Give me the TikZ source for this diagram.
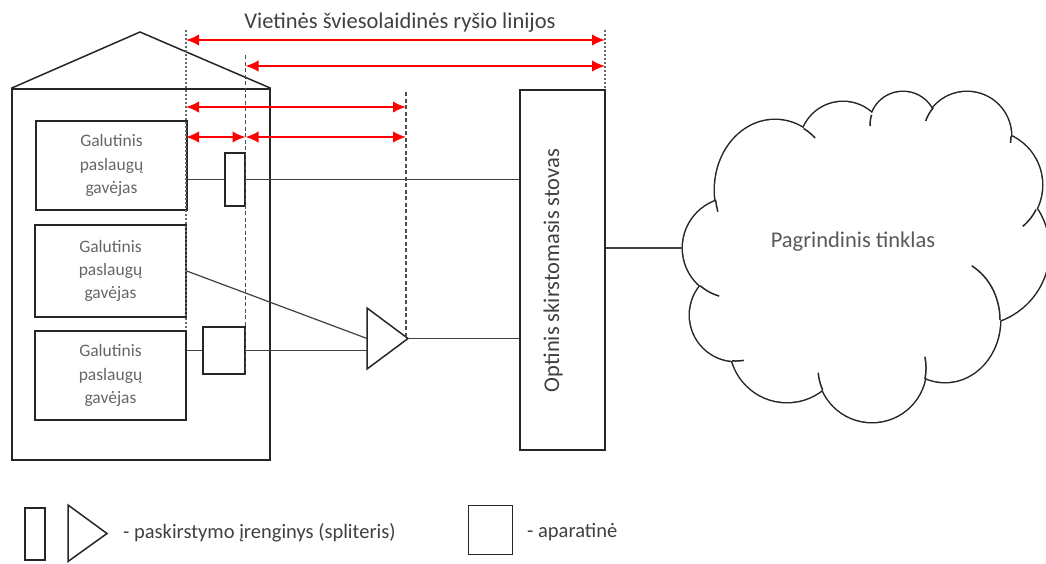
\documentclass[tikz,border=0pt]{standalone}
\usepackage{fontspec}
\setmainfont{Carlito}
\usetikzlibrary{arrows.meta}
\begin{document}
\begin{tikzpicture}[x=1pt,y=-1pt,
  outlinebox/.style={draw=black!85, line width=1.5pt, rectangle, inner sep=0pt},
  outlinepath/.style={draw=black!85, line width=1.5pt, line join=miter},
  enduser/.style={outlinebox, minimum width=151pt, align=center, text=black!60,
                  font=\fontsize{17.5}{23.3}\selectfont},
  wirepath/.style={draw=black!75, line width=1.2pt},
  guideline/.style={draw=black!70, line width=1.4pt, dash pattern=on 4pt off 2.5pt},
  guidedash/.style={draw=black!60, line width=1.1pt, dash pattern=on 2pt off 2pt},
  spanarrow/.style={draw=red, line width=2pt,
                    {Latex[length=13pt,width=11.5pt]}-{Latex[length=13pt,width=11.5pt]}},
  captiontext/.style={text=black!75, inner sep=0pt, font=\fontsize{22.5}{27}\selectfont},
  legendtext/.style={text=black!75, inner sep=0pt, font=\fontsize{20.5}{24}\selectfont},
  cloudline/.style={draw=black!85, line width=1.5pt},
]
\useasboundingbox (0,0) rectangle (1046,563);

% ---------- title ----------
\node[captiontext, anchor=base] (title) at (400,28) {Vietinės šviesolaidinės ryšio linijos};

% ---------- building ----------
\node[outlinebox, minimum width=258pt, minimum height=371pt] (house) at (141,274.5) {};
\coordinate (apex) at (140,32);
\draw[outlinepath] (house.north west) -- (apex) -- (house.north east);

\node[enduser, minimum height=89pt] (g1) at (111.5,165.5) {Galutinis\\paslaugų\\gavėjas};
\node[enduser, minimum height=92pt] (g2) at (110.5,271) {Galutinis\\paslaugų\\gavėjas};
\node[enduser, minimum height=89pt] (g3) at (110.5,375.5) {Galutinis\\paslaugų\\gavėjas};

% splitter (bar), equipment room (square), splitter (triangle)
\node[outlinebox, minimum width=20pt, minimum height=53pt] (sp1) at (235,179.5) {};
\node[outlinebox, minimum width=42pt, minimum height=47pt] (ap) at (224,350.5) {};
\coordinate (trT) at (367,308);
\coordinate (trB) at (367,369);
\coordinate (trR) at (408,338.5);
\coordinate (trIn) at (367,338.5);
\draw[outlinepath] (trT) -- (trR) -- (trB) -- cycle;

% distribution rack
\node[outlinebox, minimum width=85pt, minimum height=360pt] (rack) at (562.5,270) {};
\node[captiontext, rotate=90] (racklabel) at (553,270.5) {Optinis skirstomasis stovas};

% ---------- core network cloud ----------
\begin{scope}
\clip (0,0) rectangle (1046,563);
\foreach \cx/\cy/\rx/\ry in {733/248/50pt/50pt, 736/315/46pt/46pt, 787/345/57pt/57pt,
    872/368/54pt/54pt, 945/320/55pt/62pt, 974/250/75pt/75pt, 988/185/54pt/54pt,
    967/136/44pt/44pt, 903/125/33pt/33pt, 843/145/43pt/43pt, 775/190/60pt/70pt}
  \draw[draw=black!85, line width=3pt] (\cx,\cy) ellipse[x radius=\rx, y radius=\ry];
\foreach \cx/\cy/\rx/\ry in {733/248/50pt/50pt, 736/315/46pt/46pt, 787/345/57pt/57pt,
    872/368/54pt/54pt, 945/320/55pt/62pt, 974/250/75pt/75pt, 988/185/54pt/54pt,
    967/136/44pt/44pt, 903/125/33pt/33pt, 843/145/43pt/43pt, 775/190/60pt/70pt}
  \fill[white] (\cx,\cy) ellipse[x radius=\rx, y radius=\ry];
\fill[white] (725,210) -- (720,285) -- (740,350) -- (822,380) -- (925,362) -- (995,315)
  -- (1030,210) -- (1000,140) -- (933,115) -- (872,122) -- (805,138) -- cycle;
% inner ends of the puffs
\draw[cloudline] plot[domain=172:162, samples=12, smooth] ({775+60*cos(\x)},{190+70*sin(\x)});
\draw[cloudline] plot[domain=131:106, samples=12, smooth] ({733+50*cos(\x)},{248+50*sin(\x)});
\draw[cloudline] plot[domain=95:80, samples=12, smooth] ({736+46*cos(\x)},{315+46*sin(\x)});
\draw[cloudline] plot[domain=156:175, samples=12, smooth] ({872+54*cos(\x)},{368+54*sin(\x)});
\draw[cloudline] plot[domain=12:-12, samples=12, smooth] ({872+54*cos(\x)},{368+54*sin(\x)});
\draw[cloudline] plot[domain=0:-61, samples=16, smooth] ({945+55*cos(\x)},{320+62*sin(\x)});
\draw[cloudline] plot[domain=27:50, samples=12, smooth] ({988+54*cos(\x)},{185+54*sin(\x)});
\draw[cloudline] plot[domain=0:9, samples=8, smooth] ({967+44*cos(\x)},{136+44*sin(\x)});
\draw[cloudline] plot[domain=-140:-160, samples=12, smooth] ({967+44*cos(\x)},{136+44*sin(\x)});
\draw[cloudline] plot[domain=198:178, samples=12, smooth] ({903+33*cos(\x)},{125+33*sin(\x)});
\draw[cloudline] plot[domain=-61.5:-48, samples=12, smooth] ({775+60*cos(\x)},{190+70*sin(\x)});
\end{scope}
\coordinate (cloudW) at (683,248);
\node[captiontext, text=black!65, anchor=base] (core) at (853,247) {Pagrindinis tinklas};

% ---------- fibre connections ----------
\draw[wirepath] (sp1.west -| g1.east) -- (sp1.west);
\draw[wirepath] (sp1.east) -- (sp1.east -| rack.west);
\draw[wirepath] (g2.east) -- (trIn);
\draw[wirepath] (ap.west -| g3.east) -- (ap.west);
\draw[wirepath] (ap.east) -- (ap.east -| trT);
\draw[wirepath] (trR) -- (trR -| rack.west);
\draw[wirepath] (rack.east |- cloudW) -- (cloudW);

% ---------- reference lines ----------
\coordinate (d1t) at (186,30);   \coordinate (d1b) at (186,330);
\coordinate (d2t) at (245.5,55); \coordinate (d2b) at (245.5,375);
\coordinate (d3t) at (406,92);   \coordinate (d3b) at (406,338);
\coordinate (d4t) at (605,30);   \coordinate (d4b) at (605,90);
\draw[guidedash] (d1t) -- (d1b);
\draw[guideline] (d2t) -- (d2b);
\draw[guideline] (d3t) -- (d3b);
\draw[guidedash] (d4t) -- (d4b);

% ---------- line spans ----------
\coordinate (s1a) at (186,40);   \coordinate (s1b) at (605,40);
\coordinate (s2a) at (245.5,66); \coordinate (s2b) at (605,66);
\coordinate (s3a) at (186,107);  \coordinate (s3b) at (406,107);
\coordinate (s4a) at (186,137);  \coordinate (s4b) at (245.5,137); \coordinate (s4c) at (406,137);
\draw[spanarrow] (s1a) -- (s1b);
\draw[spanarrow] (s2a) -- (s2b);
\draw[spanarrow] (s3a) -- (s3b);
\draw[spanarrow] (s4a) -- (s4b);
\draw[spanarrow] (s4b) -- (s4c);

% ---------- legend ----------
\node[outlinebox, minimum width=20pt, minimum height=52pt] (legsp) at (35,534) {};
\coordinate (lgT) at (68,505);
\coordinate (lgB) at (68,561.5);
\coordinate (lgR) at (107,533.5);
\draw[outlinepath] (lgT) -- (lgR) -- (lgB) -- cycle;
\node[legendtext, anchor=base west] (legsptext) at (123,538) {- paskirstymo įrenginys (spliteris)};
\node[outlinebox, minimum width=44pt, minimum height=49pt] (legap) at (490.5,530) {};
\node[legendtext, anchor=base west] (legaptext) at (527,537) {- aparatinė};
\end{tikzpicture}
\end{document}
